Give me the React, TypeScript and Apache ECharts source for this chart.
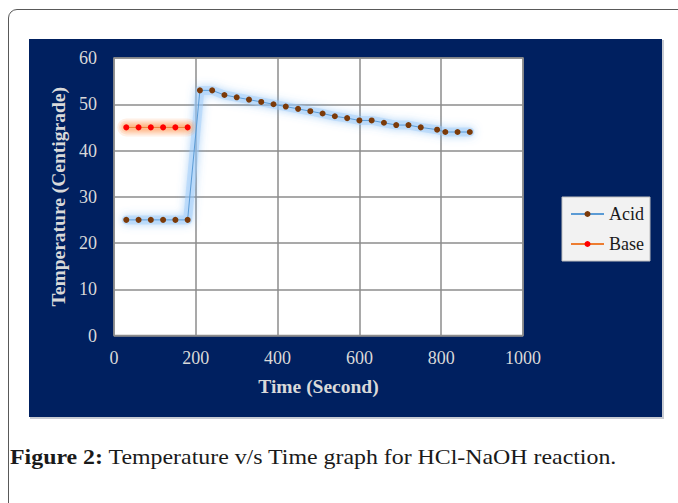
import React, { useEffect, useRef } from "react";
import * as echarts from "echarts";

const acidTime = [30, 60, 90, 120, 150, 180, 210, 240, 270, 300, 330, 360, 390, 420, 450, 480, 510, 540, 570, 600, 630, 660, 690, 720, 750, 790, 810, 840, 870];
const acidTemp = [25, 25, 25, 25, 25, 25, 53, 53, 52, 51.5, 51, 50.5, 50, 49.5, 49, 48.5, 48, 47.4, 47, 46.5, 46.5, 46, 45.5, 45.5, 45, 44.5, 44, 44, 44];
const baseTime = [30, 60, 90, 120, 150, 180];
const baseTemp = [45, 45, 45, 45, 45, 45];

const seriesNames = ["Acid", "Base"];
const xAxisTitle = "Time (Second)";
const yAxisTitle = "Temperature (Centigrade)";
const captionBold = "Figure 2:";
const captionText = " Temperature v/s Time graph for HCl-NaOH reaction.";

const SERIF = "'Liberation Serif', 'Times New Roman', serif";

export default function App() {
  const ref = useRef<HTMLDivElement>(null);
  useEffect(() => {
    const chart = echarts.init(ref.current!, null, { renderer: "svg" });
    const acid = acidTime.map((t, i) => [t, acidTemp[i]]);
    const base = baseTime.map((t, i) => [t, baseTemp[i]]);
    const glowLayers = [
      { w: 18, a: 0.14 },
      { w: 14, a: 0.18 },
      { w: 10, a: 0.24 },
      { w: 6, a: 0.3 },
    ];
    const baseGlow = glowLayers.map((g, i) => ({
      name: "Base glow " + i,
      type: "line",
      data: base,
      symbol: "none",
      silent: true,
      z: 1,
      lineStyle: { width: g.w, cap: "round", join: "round", color: `rgba(255,150,80,${g.a})` },
    }));
    chart.setOption({
      animation: false,
      backgroundColor: "transparent",
      grid: {
        left: 114,
        top: 58,
        width: 409,
        height: 277.5,
        show: true,
        backgroundColor: "#ffffff",
        borderColor: "#8c8c8c",
        borderWidth: 1.5,
      },
      legend: {
        data: seriesNames,
        orient: "vertical",
        left: 562,
        top: 197,
        padding: [8, 6, 8, 8],
        itemWidth: 33,
        itemHeight: 7.5,
        itemGap: 12,
        backgroundColor: "#f2f2f2",
        borderColor: "#bfbfbf",
        borderWidth: 1,
        textStyle: { fontFamily: SERIF, fontSize: 18, color: "#1a1a1a", lineHeight: 18 },
      },
      xAxis: {
        type: "value",
        min: 0,
        max: 1000,
        interval: 200,
        axisLine: { show: false },
        axisTick: { show: false },
        splitLine: { lineStyle: { color: "#8c8c8c", width: 1.5 } },
        axisLabel: { color: "#d9d9d9", fontFamily: SERIF, fontSize: 18, margin: 13, formatter: (v: number) => String(v) },
        name: xAxisTitle,
        nameLocation: "middle",
        nameGap: 41,
        nameTextStyle: { color: "#d9d9d9", fontFamily: SERIF, fontSize: 19.5, fontWeight: "bold" },
      },
      yAxis: {
        type: "value",
        min: 0,
        max: 60,
        interval: 10,
        axisLine: { show: false },
        axisTick: { show: false },
        splitLine: { lineStyle: { color: "#8c8c8c", width: 1.5 } },
        axisLabel: { color: "#d9d9d9", fontFamily: SERIF, fontSize: 18, margin: 17, formatter: (v: number) => String(v) },
        name: yAxisTitle,
        nameLocation: "middle",
        nameGap: 37,
        nameTextStyle: { color: "#d9d9d9", fontFamily: SERIF, fontSize: 19.5, fontWeight: "bold" },
      },
      series: [
        {
          name: "Acid glow",
          type: "line",
          data: acid,
          symbol: "none",
          silent: true,
          z: 1,
          lineStyle: {
            width: 9,
            cap: "round",
            join: "round",
            color: "rgba(160,205,250,0.5)",
            shadowBlur: 9,
            shadowColor: "rgba(90,165,240,0.9)",
          },
        },
        ...baseGlow,
        {
          name: "Acid",
          type: "line",
          data: acid,
          symbol: "circle",
          symbolSize: 6,
          z: 3,
          itemStyle: { color: "#7b3a09" },
          lineStyle: { width: 1, color: "#5b9bd5" },
        },
        {
          name: "Base",
          type: "line",
          data: base,
          symbol: "circle",
          symbolSize: 6,
          z: 3,
          itemStyle: { color: "#ff0000" },
          lineStyle: { width: 1, color: "#ed7d31" },
        },
      ],
      graphic: [
        {
          type: "text",
          x: 10,
          y: 457,
          scaleX: 1.11,
          style: {
            text: "{b|" + captionBold + "}" + captionText,
            fontFamily: SERIF,
            fontSize: 21.5,
            fill: "#1a1a1a",
            verticalAlign: "middle",
            rich: {
              b: { fontFamily: SERIF, fontSize: 21.5, fontWeight: "bold", fill: "#1a1a1a" },
            },
          },
        },
      ],
    });
    return () => chart.dispose();
  }, []);
  return (
    <div style={{ position: "fixed", left: 0, top: 0, width: 678, height: 503, overflow: "hidden", background: "#fff" }}>
      <div
        style={{
          position: "absolute",
          left: 8,
          top: 9,
          width: 720,
          height: 540,
          border: "1.5px solid #595959",
          borderTopLeftRadius: 9,
          boxSizing: "border-box",
        }}
      />
      <div style={{ position: "absolute", left: 30, top: 40, width: 634, height: 379, background: "#c8cbd2" }} />
      <div style={{ position: "absolute", left: 29, top: 39, width: 633, height: 378, background: "#002060" }} />
      <div ref={ref} style={{ position: "absolute", left: 0, top: 0, width: 678, height: 503 }} />
    </div>
  );
}
